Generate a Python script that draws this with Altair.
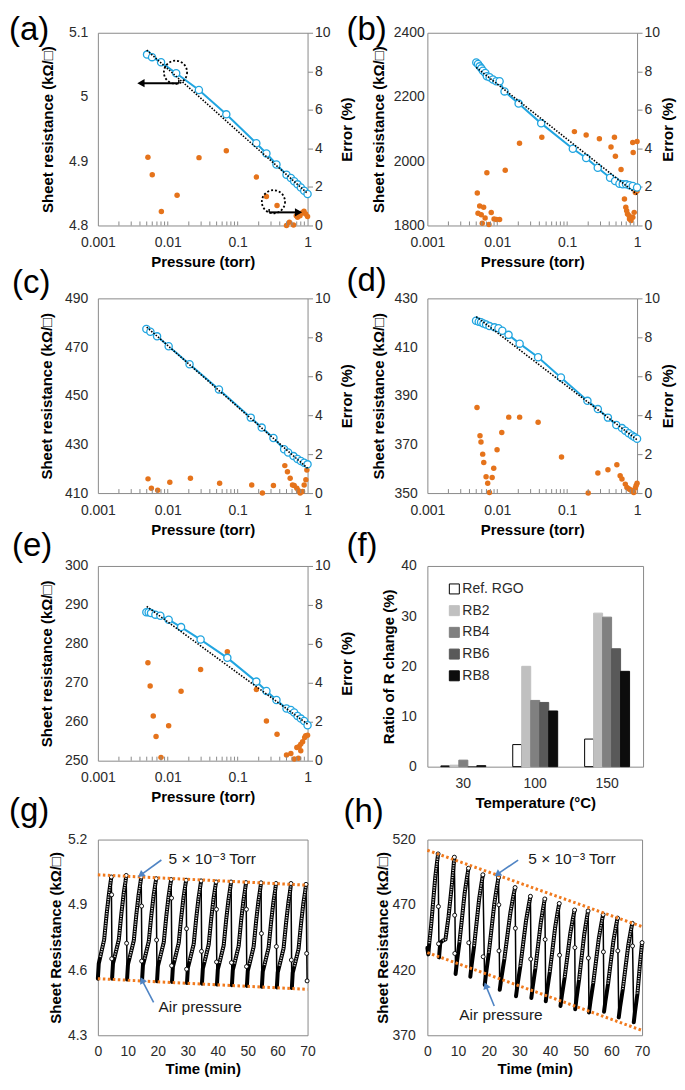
import altair as alt
import pandas as pd

FONT = "Liberation Sans, Arial, DejaVu Sans, sans-serif"
BLUE = "#21A5E0"
ORANGE = "#E5731B"
TREND = "#F07A1E"
ARROW = "#4F84C4"
FRAME = "#8a8a8a"
TXT = "#2b2b2b"

# ---------------- shared ticks ----------------
LOG_MAJOR = [0.001, 0.01, 0.1, 1]
LOG_MINOR = [0.002, 0.003, 0.004, 0.005, 0.006, 0.007, 0.008, 0.009,
             0.01, 0.02, 0.03, 0.04, 0.05, 0.06, 0.07, 0.08, 0.09,
             0.1, 0.2, 0.3, 0.4, 0.5, 0.6, 0.7, 0.8, 0.9]
ERR_TICKS = [0, 2, 4, 6, 8, 10]
TIME_TICKS = [0, 10, 20, 30, 40, 50, 60, 70]

# ---------------- (a) ----------------
A_P = [0.00505, 0.00596, 0.00802, 0.0132, 0.0279, 0.0688, 0.185, 0.258, 0.359, 0.5,
       0.577, 0.644, 0.718, 0.802, 0.895, 1.0]
A_R = [5.066, 5.062, 5.054, 5.037, 5.011, 4.973, 4.928, 4.912, 4.895, 4.879,
       4.874, 4.869, 4.864, 4.859, 4.854, 4.849]
A_FIT_P = [0.005, 1.0]
A_FIT_R = [5.073, 4.850]
A_ERR_P = [0.0052, 0.006, 0.0081, 0.0136, 0.028, 0.0688, 0.185, 0.258, 0.366, 0.5,
           0.55, 0.63, 0.69, 0.72, 0.74, 0.78, 0.83, 0.89, 0.94, 1.0]
A_ERR = [3.54, 2.63, 0.72, 1.57, 3.52, 3.88, 2.51, 1.50, 1.04, 0.0,
         0.17, 0.03, 0.51, 0.43, 0.60, 0.51, 0.65, 0.74, 0.60, 0.46]
# annotation marks of (a): dotted rings and arrows (data coordinates)
A_RING_L = [0.0129, 5.0385]
A_ARROW_L_P = [0.0144, 0.00413]
A_ARROW_L_R = [5.0215, 5.027]
A_RING_R = [0.325, 1.23]
A_ARROW_R_P = [0.282, 0.743]
A_ARROW_R_E = [0.68, 0.85]

# ---------------- (b) ----------------
B_P = [0.00501, 0.0053, 0.0056, 0.0059, 0.00624, 0.00674, 0.0071, 0.00777, 0.00867, 0.00968,
       0.0108, 0.0127, 0.0202, 0.0425, 0.1205, 0.187, 0.274, 0.411, 0.485, 0.56,
       0.624, 0.697, 0.777, 0.867, 1.0]
B_R = [2307.7, 2302.6, 2295.4, 2289.2, 2282.0, 2274.9, 2264.6, 2261.5, 2254.4, 2249.2,
       2249.0, 2217.4, 2179.5, 2117.9, 2039.0, 2010.0, 1979.5, 1948.7, 1938.5, 1930.0,
       1928.0, 1928.0, 1925.0, 1923.0, 1918.0]
B_FIT_P = [0.005, 1.0]
B_FIT_R = [2292.0, 1897.0]
B_ERR_P = [0.00518, 0.0056, 0.00638, 0.0053, 0.0059, 0.0067, 0.0061, 0.0076, 0.0082, 0.0090,
           0.0097, 0.0108, 0.0071, 0.013, 0.0208, 0.0434, 0.127, 0.187, 0.289, 0.475,
           0.424, 0.49, 0.59, 0.867, 1.0, 0.88, 0.66, 0.69, 0.71, 0.73,
           0.77, 0.78, 0.82, 0.87, 0.91, 0.946, 1.0]
B_ERR = [1.69, 1.01, 0.94, 0.63, 0.56, 0.39, 0.12, 0.05, 0.67, 0.34,
         0.31, 0.31, 2.74, 2.87, 4.27, 4.58, 4.87, 4.70, 4.50, 4.58,
         4.07, 3.59, 2.91, 4.31, 4.36, 3.79, 1.37, 0.94, 0.77, 0.60,
         0.51, 0.34, 0.26, 0.43, 0.68, 1.71, 1.79]

# ---------------- (c) ----------------
C_P = [0.00494, 0.00564, 0.00703, 0.0103, 0.0205, 0.054, 0.154, 0.221, 0.325, 0.462,
       0.528, 0.629, 0.718, 0.802, 0.895, 1.0]
C_R = [477.4, 476.3, 474.4, 470.3, 462.9, 452.6, 441.0, 436.9, 432.6, 428.0,
       426.7, 425.2, 424.0, 423.2, 422.5, 421.8]
C_FIT_P = [0.005, 1.0]
C_FIT_R = [478.2, 420.2]
C_ERR_P = [0.00522, 0.00583, 0.00718, 0.0107, 0.0211, 0.0552, 0.159, 0.226, 0.325, 0.473,
           0.516, 0.564, 0.609, 0.644, 0.703, 0.743, 0.785, 0.848, 0.895, 0.946,
           0.978, 1.0]
C_ERR = [0.73, 0.25, 0.14, 0.56, 0.76, 0.51, 0.42, 0.0, 0.39, 1.41,
         1.10, 0.76, 0.42, 0.39, 0.25, 0.12, 0.0, 0.08, 0.42, 0.68,
         1.19, 1.41]

# ---------------- (d) ----------------
D_P = [0.00497, 0.00543, 0.00586, 0.00634, 0.00692, 0.00773, 0.00912, 0.0104, 0.0118, 0.0145,
       0.0209, 0.0384, 0.0814, 0.195, 0.275, 0.383, 0.505, 0.608, 0.679, 0.759,
       0.847, 0.916, 1.0]
D_R = [420.8, 420.4, 420.2, 419.7, 419.3, 418.6, 418.1, 417.7, 416.7, 415.0,
       411.4, 405.8, 397.5, 387.9, 384.5, 381.0, 378.0, 376.7, 375.6, 374.6,
       373.7, 373.0, 372.3]
D_FIT_P = [0.005, 1.0]
D_FIT_R = [422.5, 371.9]
D_ERR_P = [0.00513, 0.00566, 0.00585, 0.00619, 0.00641, 0.00692, 0.0073, 0.00773, 0.00845, 0.0089,
           0.00993, 0.0116, 0.0146, 0.0209, 0.0384, 0.083, 0.2, 0.275, 0.383, 0.514,
           0.573, 0.608, 0.679, 0.716, 0.759, 0.80, 0.847, 0.896, 0.945, 0.97, 1.0]
D_ERR = [4.39, 2.94, 2.62, 2.0, 1.57, 0.84, 0.51, 0.03, 0.80, 1.28,
         2.22, 3.11, 3.9, 3.9, 3.64, 1.85, 0.0, 1.03, 1.2, 1.45,
         0.89, 0.72, 0.46, 0.29, 0.22, 0.17, 0.12, 0.03, 0.26, 0.39, 0.51]

# ---------------- (e) ----------------
E_P = [0.00494, 0.00533, 0.00576, 0.00665, 0.00783, 0.0103, 0.0155, 0.0295, 0.0712, 0.185,
       0.258, 0.359, 0.5, 0.577, 0.644, 0.718, 0.802, 0.895, 1.0]
E_R = [288.1, 288.1, 287.9, 287.5, 287.2, 286.2, 284.3, 281.1, 276.4, 270.3,
       267.9, 265.6, 263.4, 263.0, 262.4, 261.5, 260.8, 260.2, 259.1]
E_FIT_P = [0.005, 1.0]
E_FIT_R = [289.6, 259.4]
E_ERR_P = [0.0052, 0.0056, 0.0062, 0.0103, 0.0155, 0.0295, 0.0712, 0.185, 0.258, 0.0068,
           0.008, 0.366, 0.5, 0.577, 0.644, 0.703, 0.759, 0.74, 0.8, 0.85,
           0.91, 0.94, 1.0, 0.8]
E_ERR = [5.03, 3.83, 2.30, 1.79, 3.56, 4.68, 5.59, 3.66, 2.04, 1.24,
         0.17, 1.36, 0.29, 0.37, 0.09, 0.68, 0.73, 0.12, 0.85, 0.97,
         1.19, 1.28, 1.31, 0.51]

# ---------------- (f) ----------------
F_TEMPS = ["30", "100", "150"]
F_SERIES = ["Ref. RGO", "RB2", "RB4", "RB6", "RB8"]
F_REF = [0.15, 4.4, 5.5]
F_RB2 = [0.3, 20.0, 30.6]
F_RB4 = [1.3, 13.2, 29.8]
F_RB6 = [0.0, 12.8, 23.5]
F_RB8 = [0.2, 11.1, 19.0]
F_FILLS = ["#ffffff", "#c0c0c0", "#808080", "#595959", "#0d0d0d"]
F_STROKES = ["#000000", "#c0c0c0", "#808080", "#595959", "#0d0d0d"]

# ---------------- (g) cycles: time (min) / sheet resistance ----------------
G_CYCLE_T = [
    [0.0, 0.3, 0.8, 2.1, 2.95, 3.7, 4.25, 4.5],
    [4.75, 5.05, 5.6, 7.0, 7.85, 8.6, 9.2, 9.47],
    [9.75, 10.05, 10.6, 12.0, 12.85, 13.6, 14.2, 14.47],
    [14.75, 15.05, 15.6, 17.0, 17.85, 18.6, 19.2, 19.47],
    [19.75, 20.05, 20.6, 22.0, 22.85, 23.6, 24.2, 24.47],
    [24.75, 25.05, 25.6, 27.0, 27.85, 28.6, 29.2, 29.47],
    [29.75, 30.05, 30.6, 32.0, 32.85, 33.6, 34.2, 34.47],
    [34.75, 35.05, 35.6, 37.0, 37.85, 38.6, 39.2, 39.47],
    [39.75, 40.05, 40.6, 42.0, 42.85, 43.6, 44.2, 44.47],
    [44.75, 45.05, 45.6, 47.0, 47.85, 48.6, 49.2, 49.47],
    [49.75, 50.05, 50.6, 52.0, 52.85, 53.6, 54.2, 54.47],
    [54.75, 55.05, 55.6, 57.0, 57.85, 58.6, 59.2, 59.47],
    [59.75, 60.05, 60.6, 62.0, 62.85, 63.6, 64.2, 64.47],
    [64.75, 65.05, 65.6, 67.0, 67.85, 68.6, 69.2, 69.5],
    [69.85],
]
G_CYCLE_R = [
    [4.56, 4.63, 4.66, 4.74, 4.86, 4.95, 5.005, 5.028],
    [4.56, 4.63, 4.66, 4.74, 4.86, 4.95, 5.005, 5.035],
    [4.556, 4.626, 4.656, 4.736, 4.856, 4.946, 5.001, 5.028],
    [4.552, 4.622, 4.652, 4.732, 4.852, 4.942, 4.997, 5.02],
    [4.548, 4.618, 4.648, 4.728, 4.848, 4.938, 4.993, 5.016],
    [4.545, 4.615, 4.645, 4.725, 4.845, 4.935, 4.99, 5.013],
    [4.54, 4.61, 4.64, 4.72, 4.84, 4.93, 4.985, 5.01],
    [4.537, 4.607, 4.637, 4.717, 4.837, 4.927, 4.982, 5.005],
    [4.533, 4.603, 4.633, 4.713, 4.833, 4.923, 4.978, 5.005],
    [4.53, 4.6, 4.63, 4.71, 4.83, 4.92, 4.975, 5.002],
    [4.527, 4.597, 4.627, 4.707, 4.827, 4.917, 4.972, 5.001],
    [4.523, 4.593, 4.623, 4.703, 4.823, 4.913, 4.968, 4.998],
    [4.52, 4.59, 4.62, 4.7, 4.82, 4.91, 4.965, 4.998],
    [4.517, 4.587, 4.617, 4.697, 4.817, 4.907, 4.962, 4.994],
    [4.55],
]
G_DROP_T = [4.6, 4.62, 9.6, 14.6, 14.62, 19.6, 24.6, 24.62, 29.6, 29.62,
            34.6, 39.6, 39.62, 44.6, 49.6, 49.62, 54.6, 59.6, 64.6, 69.7]
G_DROP_R = [4.946, 4.652, 4.723, 4.894, 4.641, 4.738, 4.931, 4.62, 4.79, 4.604,
            4.686, 4.879, 4.637, 4.634, 4.879, 4.616, 4.768, 4.708, 4.646, 4.676]
G_TREND_T = [0, 70]
G_UPPER_R = [5.038, 4.99]
G_LOWER_R = [4.56, 4.511]
G_NOTE_T = [23.6, 20.2]
G_NOTE_R = [5.111, 4.429]
G_NOTE_TXT = ["5 × 10⁻³ Torr", "Air pressure"]
G_ARROW_TAIL = [(21.2, 5.106), (18.6, 4.451)]
G_ARROW_HEAD = [(14.6, 5.04), (14.9, 4.549)]

# ---------------- (h) cycles ----------------
H_CYCLE_T = [
    [0.0, 0.3, 0.62, 1.26, 1.9, 2.54, 3.12, 3.5],
    [3.8, 4.2, 5.0, 5.9, 6.9, 8.0, 8.5, 8.8],
    [9.2, 9.62, 10.46, 11.3, 12.14, 12.9, 13.4],
    [14.0, 14.41, 15.23, 16.05, 16.87, 17.61, 18.1],
    [18.7, 19.15, 20.05, 20.95, 21.85, 22.66, 23.2],
    [23.6, 24.1, 25.1, 26.1, 27.1, 28.0, 28.6],
    [28.9, 29.37, 30.31, 31.25, 32.19, 33.04, 33.6],
    [33.9, 34.34, 35.22, 36.1, 36.98, 37.77, 38.3],
    [38.6, 39.04, 39.92, 40.8, 41.68, 42.47, 43.0],
    [43.4, 43.86, 44.78, 45.7, 46.62, 47.45, 48.0],
    [48.2, 48.62, 49.46, 50.3, 51.14, 51.9, 52.4],
    [52.7, 53.16, 54.08, 55.0, 55.92, 56.75, 57.3],
    [57.6, 58.04, 58.92, 59.8, 60.68, 61.47, 62.0],
    [62.4, 62.84, 63.72, 64.6, 65.48, 66.27, 66.8],
    [67.3, 67.7, 68.5, 69.3, 70.0],
]
H_CYCLE_R = [
    [437.0, 432.0, 440.5, 455.1, 472.8, 490.5, 502.1, 509.0],
    [429.7, 440.9, 442.5, 443.4, 460.8, 485.7, 499.0, 506.5],
    [417.0, 425.9, 441.3, 459.9, 478.6, 490.7, 498.0],
    [414.8, 423.4, 438.3, 456.2, 474.2, 486.0, 493.0],
    [408.6, 417.7, 433.3, 452.3, 471.2, 483.6, 491.0],
    [404.9, 413.5, 428.4, 446.4, 464.4, 476.2, 483.2],
    [399.9, 408.3, 422.9, 440.5, 458.1, 469.6, 476.5],
    [398.5, 406.9, 421.3, 438.8, 456.3, 467.7, 474.5],
    [396.1, 404.3, 418.6, 435.8, 453.0, 464.3, 471.0],
    [392.4, 400.5, 414.5, 431.4, 448.3, 459.4, 466.0],
    [389.9, 398.2, 412.5, 429.9, 447.2, 458.5, 465.3],
    [387.4, 395.7, 409.9, 427.2, 444.5, 455.7, 462.5],
    [388.0, 395.9, 409.5, 426.1, 442.6, 453.3, 459.8],
    [383.7, 391.6, 405.3, 421.9, 438.5, 449.3, 455.8],
    [380.0, 388.0, 402.0, 424.0, 441.0],
]
H_DROP_T = [3.6, 3.65, 8.9, 8.95, 13.5, 18.2, 23.3, 23.35, 28.7, 33.7,
            38.4, 43.1, 48.1, 52.5, 57.4, 62.1, 66.9]
H_DROP_R = [468.7, 440.1, 462.0, 432.7, 440.9, 430.2, 470.0, 434.7, 452.0, 428.4,
            443.4, 431.4, 437.2, 429.2, 433.9, 434.7, 438.4]
H_TREND_T = [0, 70]
H_UPPER_R = [511.8, 453.3]
H_LOWER_R = [433.4, 373.7]
H_NOTE_T = [32.9, 10.4]
H_NOTE_R = [505.1, 385.7]
H_NOTE_TXT = ["5 × 10⁻³ Torr", "Air pressure"]
H_ARROW_TAIL = [(29.6, 504.3), (21.8, 392.4)]
H_ARROW_HEAD = [(23.1, 493.9), (19.2, 407.3)]

# ---------------- layout / style (not data) ----------------
LABEL_SIZE = 33
LABEL_POS = {"(a)": (-89, 7), "(b)": (-81, 7), "(c)": (-86, -5), "(d)": (-81, -7),
             "(e)": (-86, -10), "(f)": (-81, -10), "(g)": (-89, -19), "(h)": (-84, -18)}
ARROW_ANGLES = [233, 333]
ARROW_ANGLES_H = [235, 338]


def panel_label(label):
    dx, dy = LABEL_POS[label]
    return alt.Chart(pd.DataFrame({"s": [label]})).mark_text(
        align="left", baseline="alphabetic", fontSize=LABEL_SIZE, font=FONT, color="black"
    ).encode(x=alt.value(dx), y=alt.value(dy), text="s:N")


def log_panel(label, P, R, FP, FR, EP, EV, ydom, yvals, yfmt, lp, tp, rtp, W, H, annotate=False):
    xs = alt.Scale(type="log", domain=[0.001, 1], nice=False)
    xax = alt.Axis(values=LOG_MAJOR, format="~g", title="Pressure (torr)", ticks=False,
                   labelPadding=10, titlePadding=5)
    ys = alt.Scale(domain=ydom, nice=False, zero=False)
    yax = alt.Axis(orient="left", values=yvals, format=yfmt, title="Sheet resistance (kΩ/□)",
                   ticks=False, labelPadding=lp, titlePadding=tp)
    es = alt.Scale(domain=[0, 10], nice=False, zero=False)
    eax = alt.Axis(orient="right", values=ERR_TICKS, format="d", title="Error (%)", ticks=True,
                   tickSize=5, labelPadding=2, titlePadding=rtp, titleAngle=270, titleBaseline="top")

    def X(f):
        return alt.X(f, type="quantitative", scale=xs, axis=xax)

    def YL(f):
        return alt.Y(f, type="quantitative", scale=ys, axis=yax)

    def YR(f):
        return alt.Y(f, type="quantitative", scale=es, axis=eax)

    res = pd.DataFrame({"p": P, "r": R})
    left = [
        alt.Chart(pd.DataFrame({"p": LOG_MINOR})).mark_rule(color=FRAME, strokeWidth=1).encode(
            x=X("p"), y=alt.value(H), y2=alt.value(H - 4)),
        alt.Chart(res).mark_line(color=BLUE, strokeWidth=2).encode(x=X("p"), y=YL("r")),
        alt.Chart(res).mark_point(shape="circle", filled=True, fill="white", stroke=BLUE,
                                  strokeWidth=1.3, size=52, opacity=1).encode(x=X("p"), y=YL("r")),
        alt.Chart(pd.DataFrame({"p": FP, "r": FR})).mark_line(
            color="black", strokeWidth=1.6, strokeDash=[1.5, 1.5]).encode(x=X("p"), y=YL("r")),
    ]
    right = [
        alt.Chart(pd.DataFrame({"p": EP, "e": EV})).mark_circle(color=ORANGE, size=30, opacity=1).encode(
            x=X("p"), y=YR("e")),
    ]
    if annotate:
        left += [
            alt.Chart(pd.DataFrame({"p": [A_RING_L[0]], "r": [A_RING_L[1]]})).mark_point(
                shape="circle", filled=False, color="black", strokeWidth=1.8, strokeDash=[2, 2],
                size=540, opacity=1).encode(x=X("p"), y=YL("r")),
            alt.Chart(pd.DataFrame({"p": [A_ARROW_L_P[0]], "p2": [A_ARROW_L_P[1]], "r": [A_ARROW_L_R[0]]})).mark_rule(
                color="black", strokeWidth=2).encode(x=X("p"), x2="p2:Q", y=YL("r")),
            alt.Chart(pd.DataFrame({"p": [A_ARROW_L_P[0]], "r": [A_ARROW_L_R[0]], "r2": [A_ARROW_L_R[1]]})).mark_rule(
                color="black", strokeWidth=1.5).encode(x=X("p"), y=YL("r"), y2="r2:Q"),
            alt.Chart(pd.DataFrame({"p": [A_ARROW_L_P[1]], "r": [A_ARROW_L_R[0]]})).mark_point(
                shape="triangle-left", filled=True, color="black", size=70, opacity=1).encode(x=X("p"), y=YL("r")),
        ]
        right += [
            alt.Chart(pd.DataFrame({"p": [A_RING_R[0]], "e": [A_RING_R[1]]})).mark_point(
                shape="circle", filled=False, color="black", strokeWidth=1.8, strokeDash=[2, 2],
                size=540, opacity=1).encode(x=X("p"), y=YR("e")),
            alt.Chart(pd.DataFrame({"p": [A_ARROW_R_P[0]], "p2": [A_ARROW_R_P[1]], "e": [A_ARROW_R_E[0]]})).mark_rule(
                color="black", strokeWidth=2).encode(x=X("p"), x2="p2:Q", y=YR("e")),
            alt.Chart(pd.DataFrame({"p": [A_ARROW_R_P[0]], "e": [A_ARROW_R_E[0]], "e2": [A_ARROW_R_E[1]]})).mark_rule(
                color="black", strokeWidth=1.5).encode(x=X("p"), y=YR("e"), y2="e2:Q"),
            alt.Chart(pd.DataFrame({"p": [A_ARROW_R_P[1]], "e": [A_ARROW_R_E[0]]})).mark_point(
                shape="triangle-right", filled=True, color="black", size=70, opacity=1).encode(x=X("p"), y=YR("e")),
        ]
    left.append(panel_label(label))
    return alt.layer(alt.layer(*right), alt.layer(*left)).resolve_scale(y="independent").properties(
        width=W, height=H)


def bar_panel(W, H):
    rows = []
    for name, vals in zip(F_SERIES, [F_REF, F_RB2, F_RB4, F_RB6, F_RB8]):
        for t, v in zip(F_TEMPS, vals):
            rows.append({"temp": t, "series": name, "v": v})
    df = pd.DataFrame(rows)
    fill_scale = alt.Scale(domain=F_SERIES, range=F_FILLS)
    stroke_scale = alt.Scale(domain=F_SERIES, range=F_STROKES)
    bars = alt.Chart(df).mark_bar(strokeWidth=1).encode(
        x=alt.X("temp:N", sort=F_TEMPS, scale=alt.Scale(paddingInner=0.375, paddingOuter=0.1875),
                axis=alt.Axis(title="Temperature (°C)", labelAngle=0, ticks=False, labelPadding=10,
                              titlePadding=5)),
        xOffset=alt.XOffset("series:N", sort=F_SERIES, scale=alt.Scale(paddingInner=0, paddingOuter=0)),
        y=alt.Y("v:Q", scale=alt.Scale(domain=[0, 40], nice=False),
                axis=alt.Axis(values=[0, 10, 20, 30, 40], title="Ratio of R change (%)", ticks=False,
                              labelPadding=11, titlePadding=4)),
        fill=alt.Fill("series:N", scale=fill_scale, legend=None),
        stroke=alt.Stroke("series:N", scale=stroke_scale, legend=None),
    )
    # in-plot legend drawn as marks (one square + one label per series)
    leg_df = pd.DataFrame({"series": F_SERIES})
    ly = alt.Y("series:N", sort=F_SERIES,
               scale=alt.Scale(type="point", domain=F_SERIES, range=[23, 110], padding=0), axis=None)
    leg_sq = alt.Chart(leg_df).mark_square(size=100, strokeWidth=1, opacity=1).encode(
        x=alt.value(27), y=ly,
        fill=alt.Fill("series:N", scale=fill_scale, legend=None),
        stroke=alt.Stroke("series:N", scale=stroke_scale, legend=None))
    leg_tx = alt.Chart(leg_df).mark_text(align="left", baseline="middle", fontSize=14, font=FONT,
                                         color=TXT).encode(x=alt.value(35), y=ly, text="series:N")
    return alt.layer(bars, leg_sq, leg_tx, panel_label("(f)")).resolve_scale(y="independent").properties(
        width=W, height=H)


def cycles_frame(cyc_t, cyc_r):
    rows = []
    for k, (ts, rs) in enumerate(zip(cyc_t, cyc_r)):
        n = len(ts)
        for i, (t, r) in enumerate(zip(ts, rs)):
            rows.append({"t": t, "r": r, "cycle": k, "i": i, "last": int(i == n - 1)})
    return pd.DataFrame(rows)


def time_panel(label, cyc_t, cyc_r, drop_t, drop_r, trend_t, up_r, lo_r, note_t, note_r, note_txt,
               tails, heads, angles, ydom, yvals, yfmt, lp, tp, W, H):
    xs = alt.Scale(domain=[0, 70], nice=False, zero=False)
    xax = alt.Axis(values=TIME_TICKS, title="Time (min)", ticks=False, labelPadding=9, titlePadding=3)
    ys = alt.Scale(domain=ydom, nice=False, zero=False)
    yax = alt.Axis(values=yvals, format=yfmt, title="Sheet Resistance (kΩ/□)", ticks=False,
                   labelPadding=lp, titlePadding=tp)
    X = alt.X("t:Q", scale=xs, axis=xax)
    Y = alt.Y("r:Q", scale=ys, axis=yax)
    df = cycles_frame(cyc_t, cyc_r)
    base = alt.Chart(df)
    white = dict(shape="circle", filled=True, fill="white", stroke="black", strokeWidth=0.9,
                 size=16, opacity=1)
    layers = [
        base.mark_line(color="black", strokeWidth=1.5).encode(x=X, y=Y),
        base.mark_line(color="black", strokeWidth=4, strokeJoin="round", strokeCap="round").encode(
            x=X, y=Y, detail="cycle:N"),
        base.transform_filter("datum.i >= 2").mark_line(
            color="#d2d2d2", strokeWidth=1.8, strokeDash=[1.2, 1.2]).encode(x=X, y=Y, detail="cycle:N"),
        base.transform_filter("datum.last == 1").mark_point(**white).encode(x=X, y=Y),
        alt.Chart(pd.DataFrame({"t": drop_t, "r": drop_r})).mark_point(**white).encode(x=X, y=Y),
        alt.Chart(pd.DataFrame({"t": trend_t + trend_t, "r": up_r + lo_r,
                                "k": ["u", "u", "l", "l"]})).mark_line(
            color=TREND, strokeWidth=3, strokeDash=[2.5, 2.5]).encode(x=X, y=Y, detail="k:N"),
        alt.Chart(pd.DataFrame({"t": note_t, "r": note_r, "s": note_txt})).mark_text(
            align="left", baseline="middle", fontSize=15.5, font=FONT, color="#1a1a1a").encode(
            x=X, y=Y, text="s:N"),
    ]
    for (tt, tr), (ht, hr), ang in zip(tails, heads, angles):
        layers.append(alt.Chart(pd.DataFrame({"t": [tt], "t2": [ht], "r": [tr], "r2": [hr]})).mark_rule(
            color=ARROW, strokeWidth=1.6).encode(x=X, x2="t2:Q", y=Y, y2="r2:Q"))
        layers.append(alt.Chart(pd.DataFrame({"t": [ht], "r": [hr]})).mark_point(
            shape="triangle", filled=True, color=ARROW, size=60, angle=ang, opacity=1).encode(x=X, y=Y))
    layers.append(panel_label(label))
    return alt.layer(*layers).properties(width=W, height=H)


W = 210
pa = log_panel("(a)", A_P, A_R, A_FIT_P, A_FIT_R, A_ERR_P, A_ERR, [4.8, 5.1], [4.8, 4.9, 5.0, 5.1], "~g",
               10, 13, 9, W, 193, annotate=True)
pb = log_panel("(b)", B_P, B_R, B_FIT_P, B_FIT_R, B_ERR_P, B_ERR, [1800, 2400], [1800, 2000, 2200, 2400], "d",
               3, 7, 1, W, 193)
pc = log_panel("(c)", C_P, C_R, C_FIT_P, C_FIT_R, C_ERR_P, C_ERR, [410, 490], [410, 430, 450, 470, 490], "d",
               10, 10, 9, W, 195)
pd_ = log_panel("(d)", D_P, D_R, D_FIT_P, D_FIT_R, D_ERR_P, D_ERR, [350, 430], [350, 370, 390, 410, 430], "d",
                10, 8, 1, W, 195)
pe = log_panel("(e)", E_P, E_R, E_FIT_P, E_FIT_R, E_ERR_P, E_ERR, [250, 300], [250, 260, 270, 280, 290, 300], "d",
               10, 10, 9, W, 195)
pf = bar_panel(216, 201)
pg = time_panel("(g)", G_CYCLE_T, G_CYCLE_R, G_DROP_T, G_DROP_R, G_TREND_T, G_UPPER_R, G_LOWER_R,
                G_NOTE_T, G_NOTE_R, G_NOTE_TXT, G_ARROW_TAIL, G_ARROW_HEAD, ARROW_ANGLES,
                [4.3, 5.2], [4.3, 4.6, 4.9, 5.2], ".1f", 11, 4, W, 196)
ph = time_panel("(h)", H_CYCLE_T, H_CYCLE_R, H_DROP_T, H_DROP_R, H_TREND_T, H_UPPER_R, H_LOWER_R,
                H_NOTE_T, H_NOTE_R, H_NOTE_TXT, H_ARROW_TAIL, H_ARROW_HEAD, ARROW_ANGLES_H,
                [370, 520], [370, 420, 470, 520], "d", 12, 2, 215, 196)

chart = alt.concat(pa, pb, pc, pd_, pe, pf, pg, ph, columns=2,
                   spacing={"row": 73, "column": 120}, bounds="flush").properties(
    padding={"top": 4, "left": 0, "right": 0, "bottom": 0}
).configure(font=FONT).configure_view(
    stroke=FRAME, strokeWidth=1
).configure_axis(
    labelFont=FONT, labelFontSize=14, labelColor=TXT, titleFont=FONT, titleFontSize=15,
    titleFontWeight="bold", titleColor="black", domain=False, grid=False, labelFlush=False,
    tickColor=FRAME, labelOverlap=False
)

chart.save("out.html", embed_options={"renderer": "svg", "actions": False})
